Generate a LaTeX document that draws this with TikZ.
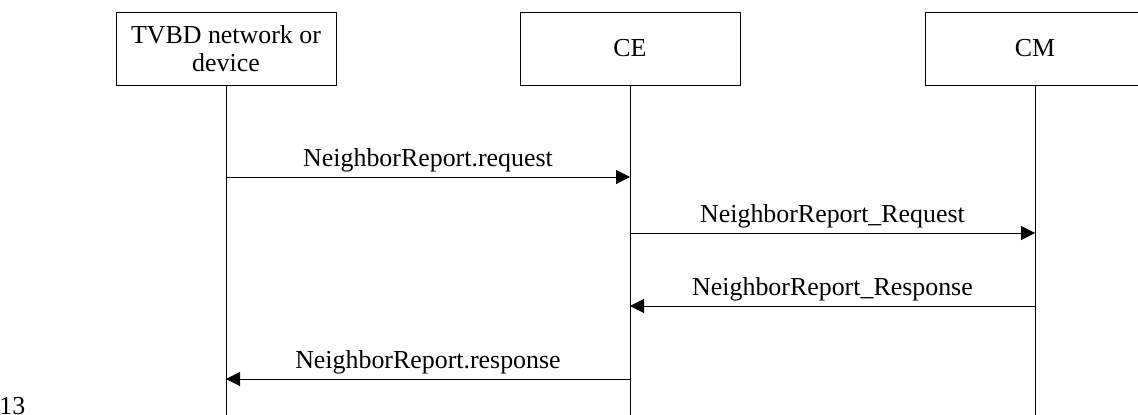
\documentclass[tikz,border=0pt]{standalone}
\usepackage{fontspec}
\setmainfont{Liberation Serif}
\usetikzlibrary{arrows.meta}
\begin{document}
\begin{tikzpicture}[x=0.5pt,y=-0.5pt,
  every node/.style={font=\fontsize{12.95}{14}\selectfont},
  actor/.style={draw, line width=0.5pt, minimum width=110pt, minimum height=36.5pt, align=center, inner sep=0pt},
  lifeline/.style={line width=0.5pt},
  msg/.style={line width=0.5pt, -{Triangle[length=7pt,width=7pt]}},
  lbl/.style={midway, anchor=base, yshift=5.5pt, inner sep=0pt}]
\useasboundingbox (0,0) rectangle (1138,414);
\node[actor] (tvbd) at (226,48.5) {TVBD network or\\device};
\node[actor] (ce) at (630,48.5) {CE};
\node[actor] (cm) at (1035,48.5) {CM};
\coordinate (tvbdend) at (226,420);
\coordinate (ceend) at (630,420);
\coordinate (cmend) at (1035,420);
\draw[lifeline] (tvbd.south) -- (tvbdend);
\draw[lifeline] (ce.south) -- (ceend);
\draw[lifeline] (cm.south) -- (cmend);
\coordinate (y1) at (0,177);
\coordinate (y2) at (0,233);
\coordinate (y3) at (0,306);
\coordinate (y4) at (0,379);
\draw[msg] (tvbd.south |- y1) -- node[lbl] {NeighborReport.request} (ce.south |- y1);
\draw[msg] (ce.south |- y2) -- node[lbl] {NeighborReport\_Request} (cm.south |- y2);
\draw[msg] (cm.south |- y3) -- node[lbl] {NeighborReport\_Response} (ce.south |- y3);
\draw[msg] (ce.south |- y4) -- node[lbl] {NeighborReport.response} (tvbd.south |- y4);
\node[anchor=base west, inner sep=0pt] (pg) at (-1,414) {13};
\end{tikzpicture}
\end{document}
